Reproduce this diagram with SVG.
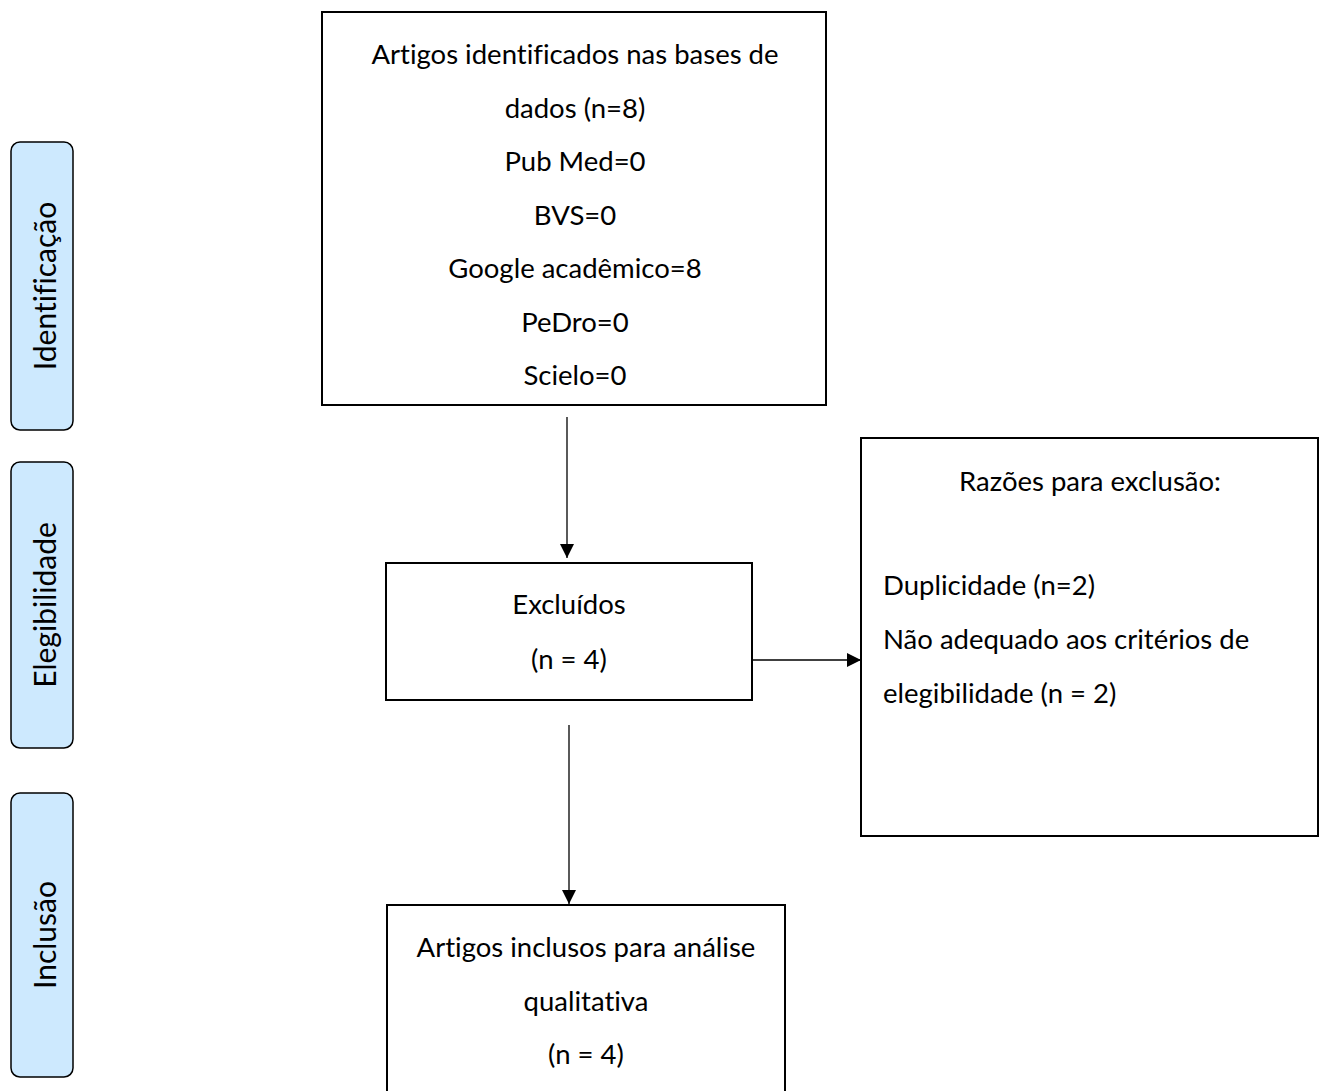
<svg xmlns="http://www.w3.org/2000/svg" width="1325" height="1091" viewBox="0 0 1325 1091">
<defs>
<style>
.box{fill:#fff;stroke:#000;stroke-width:2}
.tab{fill:#cde9fe;stroke:#000;stroke-width:1.5}
.t{font-family:Lato,"Liberation Sans",sans-serif;font-size:27.5px;fill:#000;font-variant-ligatures:none}
.c{text-anchor:middle}
.tt{font-family:Lato,"Liberation Sans",sans-serif;font-size:30px;fill:#000;text-anchor:middle;font-variant-ligatures:none}
.conn{stroke:#000;stroke-width:1.3;fill:none}
</style>
<marker id="ah" markerWidth="14" markerHeight="14" viewBox="0 0 14 14" refX="14" refY="7" orient="auto" markerUnits="userSpaceOnUse">
<path d="M0,0 L14,7 L0,14 Z" fill="#000"/>
</marker>
</defs>
<rect width="1325" height="1091" fill="#fff"/>
<g id="tab-identificacao">
<rect class="tab" x="11" y="142" width="62" height="288" rx="9"/>
<text class="tt" transform="translate(56,286) rotate(-90)">Identificação</text>
</g>
<g id="tab-elegibilidade">
<rect class="tab" x="11" y="462" width="62" height="286" rx="9"/>
<text class="tt" transform="translate(56,605) rotate(-90)">Elegibilidade</text>
</g>
<g id="tab-inclusao">
<rect class="tab" x="11" y="793" width="62" height="284" rx="9"/>
<text class="tt" transform="translate(56,935) rotate(-90)">Inclusão</text>
</g>
<g id="node-identificados">
<rect class="box" x="322" y="12" width="504" height="393"/>
<text class="t c" x="575" y="64">Artigos identificados nas bases de</text>
<text class="t c" x="575" y="118">dados (n=8)</text>
<text class="t c" x="575" y="171">Pub Med=0</text>
<text class="t c" x="575" y="225">BVS=0</text>
<text class="t c" x="575" y="278">Google acadêmico=8</text>
<text class="t c" x="575" y="332">PeDro=0</text>
<text class="t c" x="575" y="385">Scielo=0</text>
</g>
<g id="node-excluidos">
<rect class="box" x="386" y="563" width="366" height="137"/>
<text class="t c" x="569" y="614">Excluídos</text>
<text class="t c" x="569" y="669">(n = 4)</text>
</g>
<g id="node-razoes">
<rect class="box" x="861" y="438" width="457" height="398"/>
<text class="t c" x="1090" y="491">Razões para exclusão:</text>
<text class="t" x="883" y="595">Duplicidade (n=2)</text>
<text class="t" x="883" y="649">Não adequado aos critérios de</text>
<text class="t" x="883" y="703">elegibilidade (n = 2)</text>
</g>
<g id="node-inclusos">
<rect class="box" x="387" y="905" width="398" height="200"/>
<text class="t c" x="586" y="957">Artigos inclusos para análise</text>
<text class="t c" x="586" y="1011">qualitativa</text>
<text class="t c" x="586" y="1064">(n = 4)</text>
</g>
<g id="connectors">
<line class="conn" x1="567" y1="417" x2="567" y2="558" marker-end="url(#ah)"/>
<line class="conn" x1="752" y1="660" x2="861" y2="660" marker-end="url(#ah)"/>
<line class="conn" x1="569" y1="725" x2="569" y2="904" marker-end="url(#ah)"/>
</g>
</svg>
